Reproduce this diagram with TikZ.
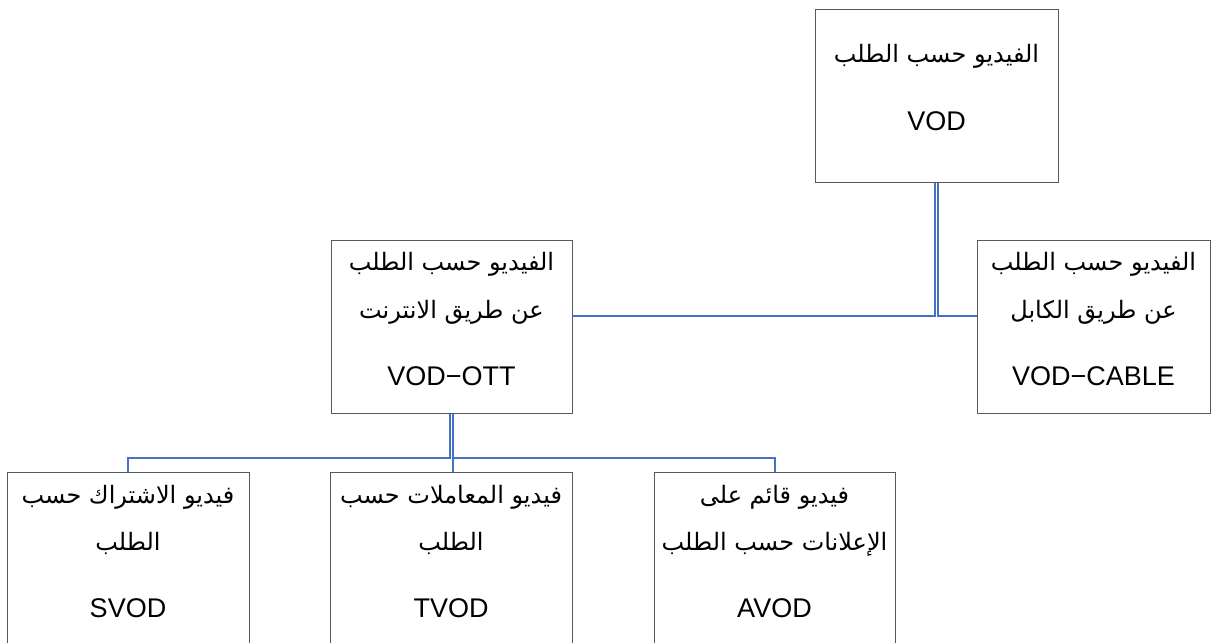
\documentclass[tikz,border=0pt]{standalone}
\usepackage{fontspec}
\newfontfamily\arabicfont[Script=Arabic]{DejaVu Sans}
\newfontfamily\latinfont{Liberation Sans}
\TeXXeTstate=1
\definecolor{boxgray}{RGB}{89,89,89}
\definecolor{linkblue}{RGB}{68,114,196}
\newcommand{\ar}[1]{{\arabicfont\fontsize{24}{28}\selectfont\beginR #1\endR}}
\newcommand{\la}[1]{{\latinfont\fontsize{27}{32}\selectfont #1}}
\begin{document}
\begin{tikzpicture}[x=1pt,y=-1pt,
  box/.style={draw=boxgray,line width=1pt,fill=white,inner sep=0pt},
  lbl/.style={anchor=base,inner sep=0pt},
  conn/.style={draw=linkblue,line width=2pt}]
\useasboundingbox (0,0) rectangle (1211,643);
\fill[white] (0,0) rectangle (1211,643);
\clip (0,0) rectangle (1211,643);

% boxes
\node[box,minimum width=243pt,minimum height=173pt] (vod)   at (936.5,95.5) {};
\node[box,minimum width=241pt,minimum height=173pt] (ott)   at (451.5,326.5) {};
\node[box,minimum width=233pt,minimum height=173pt] (cable) at (1093.5,326.5) {};
\node[box,minimum width=242pt,minimum height=190pt] (svod)  at (128,567) {};
\node[box,minimum width=242pt,minimum height=190pt] (tvod)  at (451,567) {};
\node[box,minimum width=241pt,minimum height=190pt] (avod)  at (774.5,567) {};

% junction levels of the connectors
\coordinate (topbus) at (0,315.5);
\coordinate (lowbus) at (0,457.5);

% connectors from the root
\draw[conn] ([xshift=-1.7pt]vod.south) |- (ott.east |- topbus);
\draw[conn] ([xshift=1.7pt]vod.south) |- (cable.west |- topbus);

% connectors from VOD-OTT
\draw[conn] ([xshift=-1.7pt]ott.south) |- (svod.north |- lowbus) -- (svod.north);
\draw[conn] ([xshift=1.2pt]ott.south) -- ([xshift=1.2pt]ott.south |- tvod.north);
\draw[conn] ([xshift=1.2pt]ott.south) |- (avod.north |- lowbus) -- (avod.north);

% labels
\node[lbl] (vod1) at (936.5,62) {\ar{الفيديو  حسب الطلب}};
\node[lbl] (vod2) at (936.5,130) {\la{VOD}};

\node[lbl] (ott1) at (451.5,270) {\ar{الفيديو  حسب الطلب}};
\node[lbl] (ott2) at (451.5,318) {\ar{عن طريق الانترنت}};
\node[lbl] (ott3) at (451.5,385) {\la{VOD−OTT}};

\node[lbl] (cab1) at (1093.5,270) {\ar{الفيديو  حسب الطلب}};
\node[lbl] (cab2) at (1093.5,318) {\ar{عن طريق الكابل}};
\node[lbl] (cab3) at (1093.5,385) {\la{VOD−CABLE}};

\node[lbl] (svod1) at (128,503) {\ar{فيديو  الاشتراك حسب}};
\node[lbl] (svod2) at (128,550) {\ar{الطلب}};
\node[lbl] (svod3) at (128,617) {\la{SVOD}};

\node[lbl] (tvod1) at (451,503) {\ar{فيديو  المعاملات حسب}};
\node[lbl] (tvod2) at (451,550) {\ar{الطلب}};
\node[lbl] (tvod3) at (451,617) {\la{TVOD}};

\node[lbl] (avod1) at (774.5,503) {\ar{فيديو  قائم على}};
\node[lbl] (avod2) at (774.5,550) {\ar{الإعلانات حسب الطلب}};
\node[lbl] (avod3) at (774.5,617) {\la{AVOD}};
\end{tikzpicture}
\end{document}
